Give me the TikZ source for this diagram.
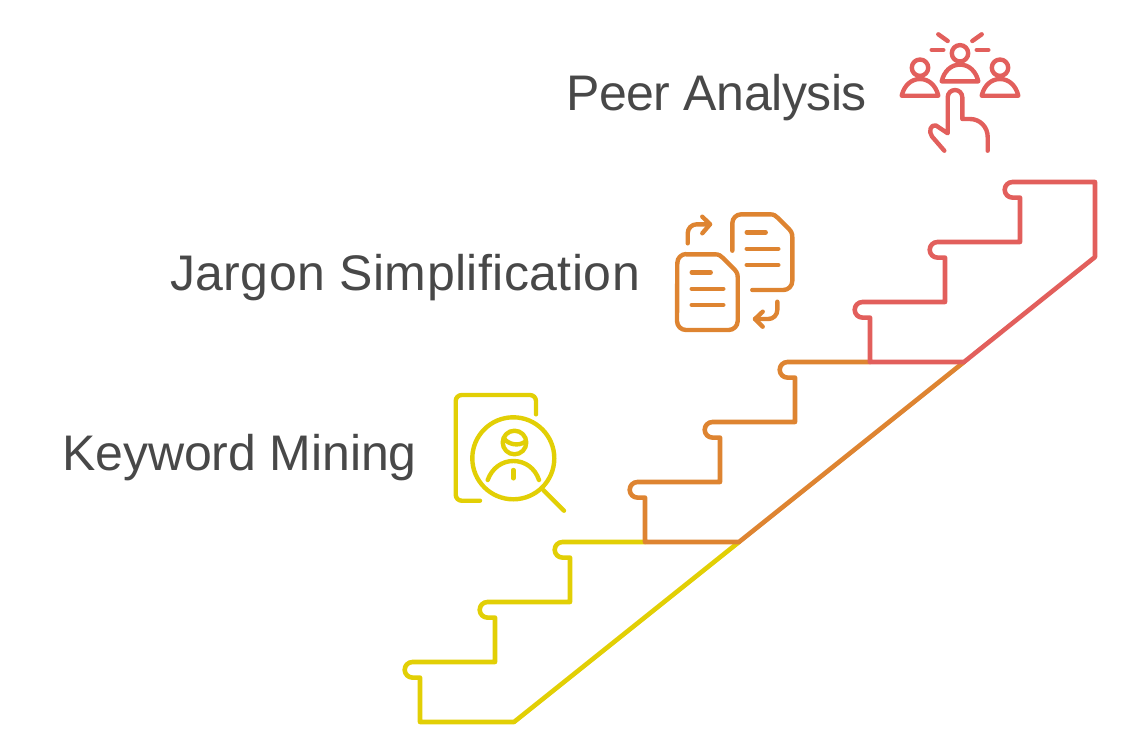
\documentclass[tikz,border=0pt]{standalone}
\usepackage{fontspec}
\setmainfont{Liberation Sans}
\usepackage{tikz}
\definecolor{stepyellow}{HTML}{E2CF05}
\definecolor{steporange}{HTML}{DE8431}
\definecolor{stepred}{HTML}{E25F5C}
\definecolor{labelgray}{HTML}{484848}
\def\noserad{7.8}
\tikzstyle{stair} = [line width=4.6pt,line join=round,line cap=round]
\tikzstyle{icon} = [line width=4.4pt,line join=round,line cap=round]
\tikzstyle{stepname} = [anchor=base west,inner sep=0pt,text=labelgray,font=\fontsize{50}{50}\selectfont]

\begin{document}
\begin{tikzpicture}[x=1pt,y=-1pt]
    \useasboundingbox (0,0) rectangle (1128,755);

    % Draw the labels
    \node[stepname] (peer) at (566,110) {\addfontfeature{LetterSpace=-0.9}Peer Analysis};
    \node[stepname] (jargon) at (170,290) {\addfontfeature{LetterSpace=0.9}Jargon Simplification};
    \node[stepname] (keyword) at (62,470) {\addfontfeature{LetterSpace=-0.2}Keyword Mining};

    % Draw the yellow flight
    \draw[stair,stepyellow] (645,542) -- (562.5,542)
        arc[start angle=270,end angle=90,radius=\noserad] -- (570,557.6) -- (570,602) -- (487.5,602)
        arc[start angle=270,end angle=90,radius=\noserad] -- (495,617.6) -- (495,662) -- (412.5,662)
        arc[start angle=270,end angle=90,radius=\noserad] -- (420,677.6) -- (420,722) -- (514,722) -- (739,542);

    % Draw the orange flight
    \draw[stair,steporange] (870,362) -- (787.5,362)
        arc[start angle=270,end angle=90,radius=\noserad] -- (795,377.6) -- (795,422) -- (712.5,422)
        arc[start angle=270,end angle=90,radius=\noserad] -- (720,437.6) -- (720,482) -- (637.5,482)
        arc[start angle=270,end angle=90,radius=\noserad] -- (645,497.6) -- (645,542) -- (739,542) -- (964,362);

    % Draw the red flight
    \draw[stair,stepred] (1095,182) -- (1012.5,182)
        arc[start angle=270,end angle=90,radius=\noserad] -- (1020,197.6) -- (1020,242) -- (937.5,242)
        arc[start angle=270,end angle=90,radius=\noserad] -- (945,257.6) -- (945,302) -- (862.5,302)
        arc[start angle=270,end angle=90,radius=\noserad] -- (870,317.6) -- (870,362) -- (964,362) -- (1095,257) -- cycle;

    % Draw the keyword icon
    \begin{scope}[icon,stepyellow]
        \draw (536,414.3) -- (536,401) arc[start angle=0,end angle=-90,radius=6] -- (461.7,395)
            arc[start angle=270,end angle=180,radius=6] -- (455.7,494.7)
            arc[start angle=180,end angle=90,radius=6] -- (480,500.7);
        \draw (513.3,458.3) circle[radius=41];
        \draw (514.5,442.5) circle[radius=11.8];
        \draw (504,438.5) .. controls (508,444) and (518,447) .. (525.5,441.5);
        \draw (487.7,480) .. controls (492,468) and (502,461) .. (513.3,461) .. controls (525,461) and (535,468) .. (539,480);
        \draw (513.3,470) -- (513.3,478.3);
        \draw (543.3,490) -- (564,510.7);
    \end{scope}

    % Draw the jargon icon
    \begin{scope}[icon,steporange]
        \draw (732.3,250.7) -- (732.3,223.3) arc[start angle=180,end angle=270,radius=9] -- (770,214.3)
            .. controls (774,214.3) and (776,216) .. (778,218) -- (788,228)
            .. controls (791,231) and (792.3,233) .. (792.3,237) -- (792.3,281)
            arc[start angle=0,end angle=90,radius=9] -- (752.3,290);
        \draw (686,254.3) -- (715,254.3) .. controls (719,254.3) and (721,256) .. (723,258) -- (733,268)
            .. controls (736,271) and (737.7,273) .. (737.7,277) -- (737.7,321)
            arc[start angle=0,end angle=90,radius=9] -- (686,330)
            arc[start angle=90,end angle=180,radius=9] -- (677.3,263)
            arc[start angle=180,end angle=270,radius=9] -- cycle;
        \foreach \x / \y / \len in {746.7/232.3/19, 746.7/248.7/31.6, 746.7/265/31.6,
                                    691.7/272.3/19, 691.7/288.7/31.6, 691.7/305/31.6}
            \draw (\x,\y) -- ++(\len,0);
        \draw (687.7,243.3) -- (687.7,233.3) arc[start angle=180,end angle=270,radius=9] -- (710,224.3);
        \draw (702.3,216.7) -- (710,224.3) -- (702.3,233.3);
        \draw (777.3,301.7) -- (777.3,310) arc[start angle=0,end angle=90,radius=9] -- (755,319);
        \draw (762.7,311.7) -- (755,319) -- (762.7,326.7);
    \end{scope}

    % Draw the peer icon
    \begin{scope}[icon,stepred]
        \foreach \x / \y in {920/67.7, 960/53.3, 1000/67.7} {
            \draw (\x,\y) circle[radius=8.2];
            \draw (\x-18.3,\y+28) .. controls (\x-16,\y+18) and (\x-9,\y+11.3) .. (\x,\y+11.3)
                .. controls (\x+9,\y+11.3) and (\x+16,\y+18) .. (\x+18.3,\y+28) -- cycle;
        }
        \foreach \xa / \ya / \xb / \yb in {931.7/50/943.3/50, 976.7/50/988.3/50,
                                           938.3/34.3/947.7/41, 981.7/34.3/972.3/41}
            \draw (\xa,\ya) -- (\xb,\yb);
        \draw (944.3,150.7) -- (932,136.5) .. controls (928,131) and (931,124) .. (936,125.5)
            -- (947.7,133.3) -- (947.7,97.3) arc[start angle=180,end angle=360,radius=7.3]
            -- (962.3,119) -- (970,119) .. controls (980,119) and (987.7,127) .. (987.7,137) -- (987.7,150.7);
    \end{scope}
\end{tikzpicture}
\end{document}
